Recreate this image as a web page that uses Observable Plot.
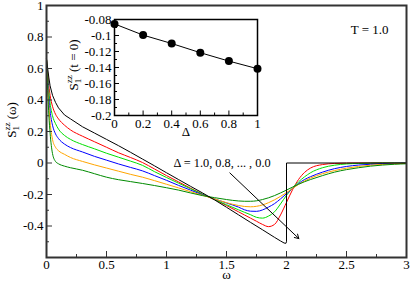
<!DOCTYPE html>
<html><head><meta charset="utf-8">
<script src="https://cdn.jsdelivr.net/npm/d3@7"></script>
<script src="https://cdn.jsdelivr.net/npm/@observablehq/plot@0.6"></script>
<style>
body{margin:0;background:#fff;}
#wrap{position:relative;width:411px;height:282px;font-family:'Liberation Serif','Times New Roman',serif;}
#wrap svg{position:absolute;overflow:visible;}
</style></head><body><div id="wrap"></div>
<script>
// ---- main panel data: S_1^zz(omega) for Delta = 1.0, 0.8, ..., 0.0 at T = 1.0
const omega = [0,0.005,0.01,0.02,0.03,0.05,0.075,0.1,0.15,0.2,0.3,0.4,0.5,0.6,0.7,0.8,0.9,1.0,1.1,1.2,1.3,1.4,1.5,1.6,1.65,1.7,1.75,1.8,1.85,1.9,1.95,2.0,2.05,2.1,2.15,2.2,2.3,2.4,2.5,2.6,2.7,2.8,2.9,3.0];
const omegaD10 = [0,0.005,0.01,0.02,0.03,0.05,0.075,0.1,0.15,0.2,0.3,0.4,0.5,0.6,0.7,0.8,0.9,1.0,1.1,1.2,1.3,1.4,1.5,1.6,1.7,1.8,1.9,1.95,1.98,1.995,2.0,2.0,2.5,3.0];
const sD10 = [0.66,0.63,0.6,0.54,0.49,0.43,0.385,0.35,0.305,0.28,0.23,0.19,0.15,0.11,0.068,0.025,-0.018,-0.062,-0.105,-0.148,-0.19,-0.234,-0.281,-0.329,-0.377,-0.424,-0.472,-0.495,-0.508,-0.51,-0.5,0,0,0];
const sD08 = [0.66,0.62,0.57,0.49,0.43,0.36,0.31,0.28,0.24,0.21,0.17,0.135,0.1,0.065,0.035,0.003,-0.038,-0.08,-0.12,-0.16,-0.198,-0.232,-0.27,-0.31,-0.33,-0.35,-0.37,-0.39,-0.404,-0.39,-0.33,-0.25,-0.17,-0.105,-0.06,-0.032,-0.01,-0.003,-0.001,0,0,0,0,0];
const sD06 = [0.66,0.61,0.55,0.45,0.38,0.3,0.25,0.215,0.175,0.15,0.117,0.09,0.062,0.037,0.012,-0.015,-0.055,-0.092,-0.128,-0.163,-0.198,-0.232,-0.265,-0.297,-0.313,-0.328,-0.345,-0.35,-0.337,-0.31,-0.26,-0.205,-0.16,-0.12,-0.088,-0.062,-0.03,-0.014,-0.006,-0.003,-0.001,0,0,0];
const sD04 = [0.66,0.6,0.53,0.41,0.33,0.24,0.185,0.155,0.12,0.098,0.07,0.042,0.018,-0.006,-0.028,-0.05,-0.08,-0.11,-0.142,-0.172,-0.202,-0.228,-0.254,-0.28,-0.297,-0.306,-0.307,-0.298,-0.28,-0.258,-0.228,-0.195,-0.162,-0.13,-0.105,-0.087,-0.058,-0.036,-0.022,-0.013,-0.008,-0.004,-0.002,-0.001];
const sD02 = [0.66,0.58,0.5,0.36,0.26,0.15,0.1,0.078,0.055,0.035,0.01,-0.012,-0.032,-0.052,-0.072,-0.09,-0.112,-0.135,-0.158,-0.182,-0.205,-0.228,-0.252,-0.27,-0.276,-0.278,-0.275,-0.266,-0.252,-0.234,-0.212,-0.188,-0.162,-0.136,-0.114,-0.096,-0.068,-0.048,-0.033,-0.022,-0.014,-0.009,-0.005,-0.002];
const sD00 = [0.66,0.56,0.46,0.3,0.19,0.06,0.01,-0.005,-0.02,-0.03,-0.046,-0.068,-0.09,-0.106,-0.118,-0.13,-0.143,-0.157,-0.172,-0.19,-0.207,-0.22,-0.232,-0.241,-0.243,-0.243,-0.24,-0.232,-0.221,-0.207,-0.19,-0.172,-0.153,-0.135,-0.119,-0.105,-0.08,-0.058,-0.042,-0.03,-0.02,-0.013,-0.008,-0.005];
const seriesColors = ["#000000","#ff0000","#00e000","#0000ff","#ffa500","#008b00"];

const xMajor = [0,0.5,1,1.5,2,2.5,3];
const xMinor = [0.25,0.75,1.25,1.75,2.25,2.75];
const yMajor = [1,0.8,0.6,0.4,0.2,0,-0.2,-0.4];
const yMinor = [0.9,0.7,0.5,0.3,0.1,-0.1,-0.3,-0.5];

// ---- inset data: S_1^zz(t=0) vs Delta
const deltas = [0,0.2,0.4,0.6,0.8,1.0];
const szz0 = [-0.0855,-0.0995,-0.110,-0.1215,-0.132,-0.1415];
const insetXMajor = [0,0.2,0.4,0.6,0.8,1];
const insetXMinor = [0.1,0.3,0.5,0.7,0.9];
const insetYMajor = [-0.08,-0.1,-0.12,-0.14,-0.16,-0.18,-0.2];
const insetYMinor = [-0.09,-0.11,-0.13,-0.15,-0.17,-0.19];

// ---- annotation (data units)
const annText = "Δ = 1.0, 0.8, ... , 0.0";
const annAnchor = {omega: 1.058, value: 0.0};
const annArrow = {omega1: 1.528, value1: -0.063, omega2: 2.103, value2: -0.48};

const font = "'Liberation Serif', 'Times New Roman', serif";
const fmt = d => String(d);

const colored = [sD08, sD06, sD04, sD02, sD00];
const lineMarks = [];
colored.forEach((arr, k) => {
  const data = omega.map((w, i) => ({w, v: arr[i]}));
  lineMarks.push(Plot.line(data, {x: "w", y: "v", stroke: seriesColors[k + 1], strokeWidth: 1, curve: "monotone-x"}));
});
const blackData = omegaD10.map((w, i) => ({w, v: sD10[i]}));
lineMarks.push(Plot.line(blackData, {x: "w", y: "v", stroke: seriesColors[0], strokeWidth: 1}));

const main = Plot.plot({
  width: 411, height: 282,
  marginLeft: 46, marginRight: 5, marginTop: 5, marginBottom: 25,
  style: {fontFamily: font, fontSize: "13px", background: "transparent", color: "#000"},
  x: {domain: [0, 3]},
  y: {domain: [-0.6, 1]},
  marks: [
    ...lineMarks,
    Plot.text([annText], {x: () => annAnchor.omega, y: () => annAnchor.value, text: d => d, textAnchor: "start", fontSize: 12.3, fontFamily: font, fill: "#000"}),
    Plot.arrow([annArrow], {x1: "omega1", y1: "value1", x2: "omega2", y2: "value2", stroke: "#000", strokeWidth: 1, headLength: 7}),
    Plot.text(["T = 1.0"], {frameAnchor: "top-right", dx: -18, dy: 19, textAnchor: "end", fontSize: 13, fontFamily: font, fill: "#000"}),
    Plot.text(["ω"], {frameAnchor: "bottom", dy: 21, fontSize: 13, fontFamily: font, fill: "#000"}),
    Plot.axisX({ticks: xMinor, tickSize: -3, tickFormat: () => "", stroke: "#333", label: null}),
    Plot.axisX({ticks: xMajor, tickSize: -6, tickFormat: () => "", stroke: "#333", label: null}),
    Plot.axisX({ticks: xMajor, tickSize: 0, tickPadding: 2, tickFormat: fmt, label: null, fontFamily: font}),
    Plot.axisY({ticks: yMinor, tickSize: -3, tickFormat: () => "", stroke: "#333", label: null}),
    Plot.axisY({ticks: yMajor, tickSize: -6, tickFormat: () => "", stroke: "#333", label: null}),
    Plot.axisY({ticks: yMajor, tickSize: 0, tickPadding: 3, tickFormat: fmt, label: null, fontFamily: font}),
    Plot.frame({stroke: "#333", strokeWidth: 2})
  ]
});
main.style.left = "0px"; main.style.top = "0px";
document.getElementById("wrap").appendChild(main);

// y-axis label with stacked sub/superscript
{
  const svg = d3.select(main);
  const t = svg.append("text")
    .attr("transform", "translate(16,120) rotate(-90)")
    .attr("text-anchor", "middle")
    .attr("font-family", font).attr("font-size", 13).attr("fill", "#000");
  t.append("tspan").text("S");
  t.append("tspan").attr("font-size", 9).attr("dy", 3).text("1");
  t.append("tspan").attr("font-size", 9).attr("dx", -4.5).attr("dy", -9).text("zz");
  t.append("tspan").attr("dy", 6).text(" (ω)");
}

// ---- inset
const inLeft = 60, inTop = 5;
const inset = Plot.plot({
  width: 205, height: 140,
  marginLeft: 54, marginTop: 14, marginRight: 8, marginBottom: 30,
  style: {fontFamily: font, fontSize: "13px", background: "transparent", color: "#000", overflow: "visible"},
  x: {domain: [0, 1]},
  y: {domain: [-0.2, -0.08]},
  marks: [
    Plot.frame({fill: "white"}),
    Plot.line(deltas.map((d, i) => ({d, s: szz0[i]})), {x: "d", y: "s", stroke: "#000", strokeWidth: 1}),
    Plot.dot(deltas.map((d, i) => ({d, s: szz0[i]})), {x: "d", y: "s", r: 4, fill: "#000", stroke: "none"}),
    Plot.text(["Δ"], {frameAnchor: "bottom", dy: 20, fontSize: 13, fontFamily: font, fill: "#000"}),
    Plot.axisX({ticks: insetXMinor, tickSize: -2.5, tickFormat: () => "", stroke: "#000", label: null}),
    Plot.axisX({ticks: insetXMajor, tickSize: -4.5, tickFormat: () => "", stroke: "#000", label: null}),
    Plot.axisX({ticks: insetXMajor, tickSize: 0, tickPadding: 3, tickFormat: fmt, label: null, fontFamily: font}),
    Plot.axisY({ticks: insetYMinor, tickSize: -3, tickFormat: () => "", stroke: "#000", label: null}),
    Plot.axisY({ticks: insetYMajor, tickSize: -5, tickFormat: () => "", stroke: "#000", label: null}),
    Plot.axisY({ticks: insetYMajor, tickSize: 0, tickPadding: 3, tickFormat: fmt, label: null, fontFamily: font}),
    Plot.frame({stroke: "#000", strokeWidth: 1.5})
  ]
});
inset.style.left = inLeft + "px"; inset.style.top = inTop + "px";
document.getElementById("wrap").appendChild(inset);
{
  const svg = d3.select(inset);
  const t = svg.append("text")
    .attr("transform", `translate(${77.5 - inLeft},${65 - inTop}) rotate(-90)`)
    .attr("text-anchor", "middle")
    .attr("font-family", font).attr("font-size", 13).attr("fill", "#000");
  t.append("tspan").text("S");
  t.append("tspan").attr("font-size", 9).attr("dy", 3).text("1");
  t.append("tspan").attr("font-size", 9).attr("dx", -4.5).attr("dy", -9).text("zz");
  t.append("tspan").attr("dy", 6).text(" (t = 0)");
}
</script></body></html>
